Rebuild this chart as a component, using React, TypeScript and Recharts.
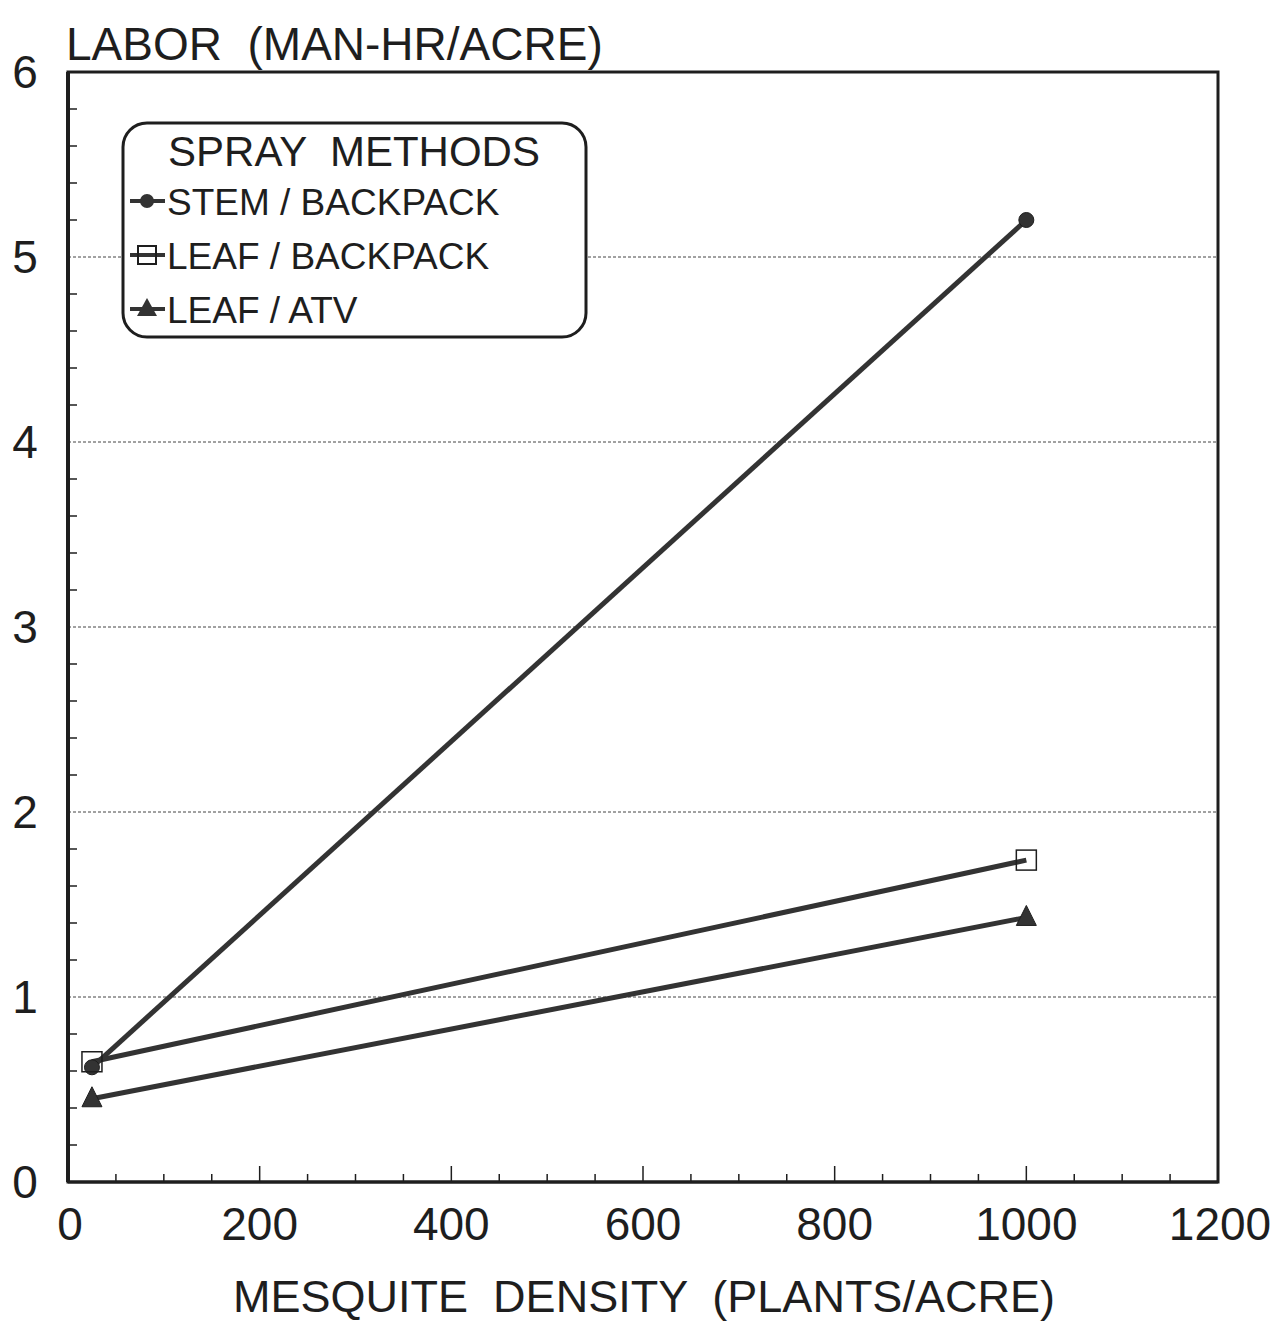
import React from "react";
import { LineChart, Line, XAxis, YAxis, ReferenceLine, ReferenceArea, Label } from "recharts";

const densities = [25, 1000];
const stemBackpack = [0.62, 5.2];
const leafBackpack = [0.65, 1.74];
const leafAtv = [0.45, 1.43];

const xTicks = [0, 50, 100, 150, 200, 250, 300, 350, 400, 450, 500, 550, 600, 650, 700, 750, 800, 850, 900, 950, 1000, 1050, 1100, 1150, 1200];
const xLabeled = [0, 200, 400, 600, 800, 1000, 1200];
const yTicks = [0, 0.2, 0.4, 0.6, 0.8, 1, 1.2, 1.4, 1.6, 1.8, 2, 2.2, 2.4, 2.6, 2.8, 3, 3.2, 3.4, 3.6, 3.8, 4, 4.2, 4.4, 4.6, 4.8, 5, 5.2, 5.4, 5.6, 5.8, 6];
const yLabeled = [0, 1, 2, 3, 4, 5, 6];
const gridValues = [1, 2, 3, 4, 5];

const yTitle = "LABOR  (MAN-HR/ACRE)";
const xTitle = "MESQUITE  DENSITY  (PLANTS/ACRE)";
const legendTitle = "SPRAY  METHODS";
const seriesNames = ["STEM / BACKPACK", "LEAF / BACKPACK", "LEAF / ATV"];

const data = densities.map((d, i) => ({
  x: d,
  stem: stemBackpack[i],
  leafBp: leafBackpack[i],
  atv: leafAtv[i],
}));

const FONT = "'Liberation Sans', Arial, sans-serif";
const INK = "#1e1e1e";
const LINE = "#333";
const PRE = { whiteSpace: "pre" as const };

const XTick = (props: any) => {
  const { x, y, payload } = props;
  const v = payload.value;
  const labeled = xLabeled.includes(v);
  const shift = v === 1200 ? 2 : v === 0 ? 2 : 0;
  return (
    <g>
      <line x1={x} y1={y} x2={x} y2={y - (labeled ? 16 : 8)} stroke={INK} strokeWidth={1.5} />
      {labeled ? (
        <text x={x + shift} y={y + 58} textAnchor="middle" fontSize={46} fontFamily={FONT} fill={INK}>{v}</text>
      ) : null}
    </g>
  );
};

const YTick = (props: any) => {
  const { x, y, payload } = props;
  const v = payload.value;
  const labeled = yLabeled.includes(v);
  return (
    <g>
      {!labeled && <line x1={x} y1={y} x2={x + 9} y2={y} stroke={INK} strokeWidth={1.5} />}
      {labeled ? (
        <text x={x - 43} y={y + 16} textAnchor="middle" fontSize={46} fontFamily={FONT} fill={INK}>{v}</text>
      ) : null}
    </g>
  );
};

const CircleDot = (props: any) => {
  const { cx, cy } = props;
  if (cx == null || cy == null) return null;
  return <circle cx={cx} cy={cy} r={7.5} fill={LINE} stroke={INK} strokeWidth={1} />;
};
const SquareDot = (props: any) => {
  const { cx, cy } = props;
  if (cx == null || cy == null) return null;
  return <rect x={cx - 10} y={cy - 10} width={20} height={20} fill="none" stroke={INK} strokeWidth={1.5} />;
};
const TriDot = (props: any) => {
  const { cx, cy } = props;
  if (cx == null || cy == null) return null;
  return <polygon points={`${cx},${cy - 12} ${cx - 10},${cy + 8} ${cx + 10},${cy + 8}`} fill={LINE} stroke={INK} strokeWidth={1} />;
};

const LegendBox = () => (
  <svg width={470} height={222} style={{ display: "block" }}>
    <rect x={2} y={2} width={463} height={214} rx={24} ry={24} fill="#fff" stroke={INK} strokeWidth={3} />
    <text x={233} y={45} textAnchor="middle" fontSize={42} fontFamily={FONT} fill={INK} style={PRE}>{legendTitle}</text>
    {seriesNames.map((n, i) => {
      const by = 94 + i * 54;
      const my = by - 14;
      return (
        <g key={n}>
          <line x1={9} y1={my} x2={44} y2={my} stroke={LINE} strokeWidth={4} />
          {i === 0 && <circle cx={26} cy={my} r={7} fill={LINE} />}
          {i === 1 && <rect x={17} y={my - 9} width={18} height={18} fill="none" stroke={INK} strokeWidth={2} />}
          {i === 2 && <polygon points={`26,${my - 11} 16,${my + 7} 36,${my + 7}`} fill={LINE} />}
          <text x={46} y={by} fontSize={37} fontFamily={FONT} fill={INK} style={PRE}>{n}</text>
        </g>
      );
    })}
  </svg>
);

export default function App() {
  return (
    <div style={{ background: "#fff", position: "relative", width: 1270, height: 1319 }}>
      <LineChart width={1270} height={1319} data={data} margin={{ top: 64, right: 60, bottom: 65, left: 0 }}>
        <XAxis
          dataKey="x"
          type="number"
          domain={[0, 1200]}
          ticks={xTicks}
          interval={0}
          tickSize={0}
          tickMargin={0}
          tick={<XTick />}
          axisLine={{ stroke: INK, strokeWidth: 3 }}
          height={80}
        >
          <Label
            content={(p: any) => {
              const vb = p.viewBox;
              return (
                <text x={636} y={vb.y + 130} textAnchor="middle" fontSize={45} fontFamily={FONT} fill={INK} style={PRE}>{xTitle}</text>
              );
            }}
          />
        </XAxis>
        <YAxis
          type="number"
          domain={[0, 6]}
          ticks={yTicks}
          interval={0}
          tickSize={0}
          tickMargin={0}
          tick={<YTick />}
          axisLine={{ stroke: INK, strokeWidth: 4 }}
          width={60}
        >
          <Label
            content={(p: any) => {
              const vb = p.viewBox;
              return (
                <text x={58} y={vb.y - 12} textAnchor="start" fontSize={46} fontFamily={FONT} fill={INK} style={PRE}>{yTitle}</text>
              );
            }}
          />
        </YAxis>
        {gridValues.map((g) => (
          <ReferenceLine key={g} y={g} stroke="#444" strokeWidth={1} strokeDasharray="3 2" />
        ))}
        <ReferenceArea x1={0} x2={1200} y1={0} y2={6} fill="none" stroke={INK} strokeWidth={3} ifOverflow="visible" />
        <Line dataKey="stem" stroke={LINE} strokeWidth={5} dot={<CircleDot />} isAnimationActive={false} />
        <Line dataKey="leafBp" stroke={LINE} strokeWidth={5} dot={<SquareDot />} isAnimationActive={false} />
        <Line dataKey="atv" stroke={LINE} strokeWidth={5} dot={<TriDot />} isAnimationActive={false} />
      </LineChart>
      <div style={{ position: "absolute", left: 113, top: 113 }}>
        <LegendBox />
      </div>
    </div>
  );
}
